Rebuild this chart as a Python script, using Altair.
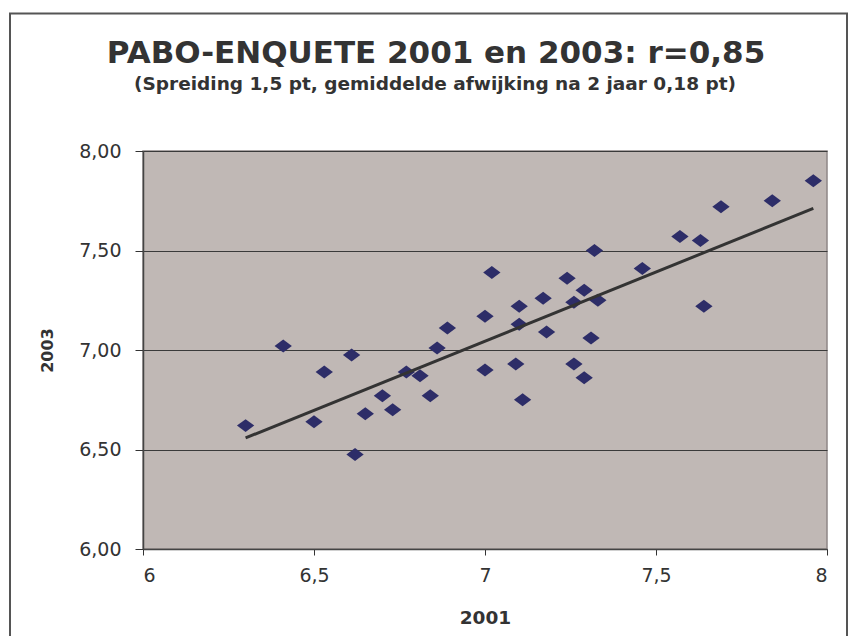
import altair as alt
import pandas as pd

# ---- data ----
x2001 = [6.30, 6.41, 6.50, 6.53, 6.61, 6.62, 6.65, 6.70, 6.73, 6.77, 6.81, 6.84,
         6.86, 6.89, 7.00, 7.00, 7.02, 7.09, 7.10, 7.10, 7.11, 7.17, 7.18, 7.24,
         7.26, 7.26, 7.29, 7.29, 7.31, 7.32, 7.33, 7.46, 7.57, 7.63, 7.64, 7.69,
         7.84, 7.96]
y2003 = [6.62, 7.02, 6.64, 6.89, 6.975, 6.475, 6.68, 6.77, 6.70, 6.89, 6.87, 6.77,
         7.01, 7.11, 7.17, 6.90, 7.39, 6.93, 7.22, 7.13, 6.75, 7.26, 7.09, 7.36,
         7.24, 6.93, 7.30, 6.86, 7.06, 7.50, 7.25, 7.41, 7.57, 7.55, 7.22, 7.72,
         7.75, 7.85]
x_ticks = [6, 6.5, 7, 7.5, 8]
y_ticks = [6.0, 6.5, 7.0, 7.5, 8.0]
title_text = "PABO-ENQUETE 2001 en 2003: r=0,85"
subtitle_text = "(Spreiding 1,5 pt, gemiddelde afwijking na 2 jaar 0,18 pt)"
x_title = "2001"
y_title = "2003"

df = pd.DataFrame({"x": x2001, "y": y2003})
tdf = pd.DataFrame({"title": [title_text], "subtitle": [subtitle_text]})

FONT = "DejaVu Sans"
TXT = "#333333"

xs = alt.Scale(domain=[6, 8], nice=False, zero=False)
ys = alt.Scale(domain=[6, 8], nice=False, zero=False)

x_axis = alt.Axis(
    values=x_ticks, grid=False,
    labelExpr="replace(format(datum.value, '~g'), '.', ',')",
    labelFont=FONT, labelFontSize=19, labelColor=TXT, labelPadding=11,
    tickSize=6, tickColor="#333333", domainColor="#444444", domainWidth=1.5,
    title=x_title, titleFont=FONT, titleFontSize=18.5, titleFontWeight="bold",
    titleColor=TXT, titleY=74, titleBaseline="alphabetic",
)
y_axis = alt.Axis(
    values=y_ticks, grid=True, gridColor="#3a3a3a", gridWidth=1,
    labelExpr="replace(format(datum.value, '.2f'), '.', ',')",
    labelFont=FONT, labelFontSize=19, labelColor=TXT, labelPadding=14,
    tickSize=8, tickColor="#333333", domainColor="#444444", domainWidth=1.5,
    title=y_title, titleFont=FONT, titleFontSize=16, titleFontWeight="bold",
    titleColor=TXT, titleX=-91, titleBaseline="alphabetic",
)

diamond = "M-1,0L0,-0.75L1,0L0,0.75Z"

points = alt.Chart(df).mark_point(
    shape=diamond, filled=True, size=300, color="#2D2D68", opacity=1
).encode(
    x=alt.X("x:Q", scale=xs, axis=x_axis),
    y=alt.Y("y:Q", scale=ys, axis=y_axis),
)

trend = alt.Chart(df).transform_regression("x", "y").mark_line(
    color="#333333", strokeWidth=3
).encode(x=alt.X("x:Q", scale=xs), y=alt.Y("y:Q", scale=ys))

frame = alt.Chart(tdf).mark_rect(
    fillOpacity=0, stroke="#555555", strokeWidth=2
).encode(
    x=alt.value(-133), x2=alt.value(704),
    y=alt.value(-137.5), y2=alt.value(490),
)

title = alt.Chart(tdf).mark_text(
    font=FONT, fontSize=31, fontWeight="bold", color=TXT,
    align="center", baseline="alphabetic"
).encode(x=alt.value(293), y=alt.value(-88), text="title:N")

subtitle = alt.Chart(tdf).mark_text(
    font=FONT, fontSize=18.5, fontWeight="bold", color=TXT,
    align="center", baseline="alphabetic"
).encode(x=alt.value(292), y=alt.value(-61), text="subtitle:N")

chart = alt.layer(frame, points, trend, title, subtitle).properties(
    width=684, height=398,
    autosize=alt.AutoSizeParams(type="none"),
    padding={"left": 135, "top": 143, "right": 21, "bottom": 87},
).configure_view(
    fill="#C0B8B5", stroke="#8F8787", strokeWidth=1.5
)

chart.save("out.html", embed_options={"renderer": "svg", "actions": False})
